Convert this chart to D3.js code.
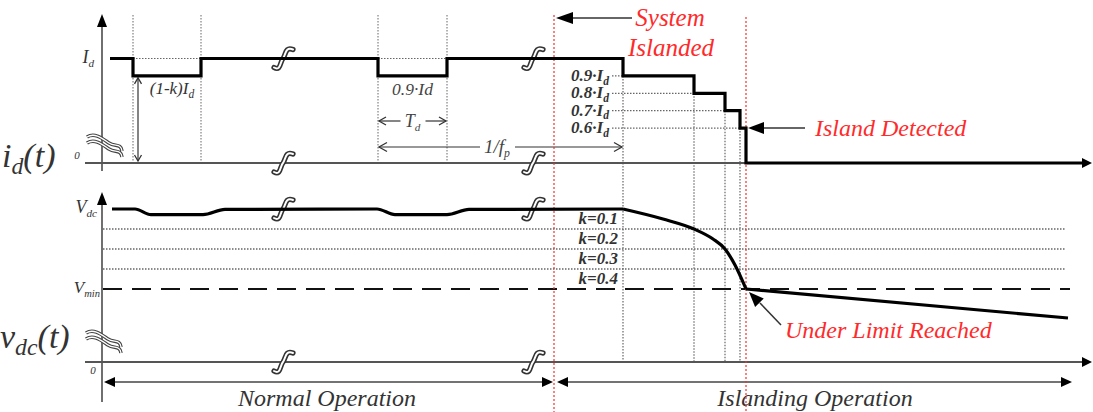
<!DOCTYPE html>
<html>
<head>
<meta charset="utf-8">
<script src="https://cdn.jsdelivr.net/npm/d3@7"></script>
<style>
  body { margin: 0; background: #fff; }
  svg { display: block; }
</style>
</head>
<body>
<svg id="chart" width="1093" height="412"></svg>
<script>
// ---- Timing (arbitrary time units) ----
const notchStarts = [3.0, 27.5];
const notchEnds = [9.8, 34.4];
const notchLevel = 0.9;
const breakTimes = [18, 43];
const tIslanded = 45.1;
const stepTimes = [52.0, 59.1, 62.2, 63.7];
const stepLevels = [0.9, 0.8, 0.7, 0.6];
const stepLabels = ["0.9·", "0.8·", "0.7·", "0.6·"];
const tDetected = 64.3;

// ---- Injected current i_d(t), per unit of I_d ----
const idTrace = [
  [0.7, 1], [3.0, 1], [3.0, 0.9], [9.8, 0.9], [9.8, 1],
  [27.5, 1], [27.5, 0.9], [34.4, 0.9], [34.4, 1],
  [52.0, 1], [52.0, 0.9], [59.1, 0.9], [59.1, 0.8], [62.2, 0.8],
  [62.2, 0.7], [63.7, 0.7], [63.7, 0.6], [64.3, 0.6], [64.3, 0], [98.2, 0]
];

// ---- DC-link voltage v_dc(t), per unit of V_dc ----
const vdcNormal = [
  [0.9, 1], [3.2, 1], [4.8, 0.972], [10.0, 0.972], [12.2, 0.998],
  [27.4, 1], [29.2, 0.972], [34.4, 0.972], [36.6, 0.998], [52.0, 1]
];
const vdcIsland = [
  [52.0, 1], [56.0, 0.95], [59.1, 0.9], [61.0, 0.85], [62.2, 0.8],
  [63.2, 0.72], [64.3, 0.6]
];
const vdcAfter = [[64.3, 0.6], [96.5, 0.455]];
const vThresholds = [0.9, 0.8, 0.7];
const kLabels = ["k=0.1", "k=0.2", "k=0.3", "k=0.4"];
const vMin = 0.6;

const FONT = "'Liberation Serif', 'DejaVu Serif', 'Times New Roman', serif";
const svg = d3.select("#chart");
const x = d3.scaleLinear().domain([0, 100]).range([103, 1103]);
// broken value axes: compressed segment below the break marks
const yI = d3.scaleLinear().domain([0, 0.5, 1]).range([163, 145.5, 58.5]);
const yV = d3.scaleLinear().domain([0, 0.4, 1]).range([362, 329, 209]);

const DARK = "#333", GRID = "#666", RED = "#ff2a2a";

function tri(g, tipX, tipY, ang, len, half, fill) {
  const c = Math.cos(ang), s = Math.sin(ang);
  const bx = tipX - c * len, by = tipY - s * len;
  const p = [[tipX, tipY], [bx - s * half, by + c * half], [bx + s * half, by - c * half]];
  g.append("path").attr("d", "M" + p.join("L") + "Z").attr("fill", fill || "#000");
}
function chevron(g, tipX, tipY, ang, len, half) {
  const c = Math.cos(ang), s = Math.sin(ang);
  const bx = tipX - c * len, by = tipY - s * len;
  g.append("path")
    .attr("d", `M${bx - s * half},${by + c * half}L${tipX},${tipY}L${bx + s * half},${by - c * half}`)
    .attr("fill", "none").attr("stroke", DARK).attr("stroke-width", 1.3);
}
function line(g, x1, y1, x2, y2, stroke, w, dash) {
  const l = g.append("line").attr("x1", x1).attr("y1", y1).attr("x2", x2).attr("y2", y2)
    .attr("stroke", stroke).attr("stroke-width", w);
  if (dash) l.attr("stroke-dasharray", dash);
  return l;
}
function label(g, px, py, parts, size, anchor, fill, weight, subScale) {
  const t = g.append("text").attr("x", px).attr("y", py).attr("font-size", size)
    .attr("font-family", FONT).attr("font-style", "italic")
    .attr("text-anchor", anchor || "start").attr("fill", fill || DARK);
  if (weight) t.attr("font-weight", weight);
  parts.forEach(p => {
    const ts = t.append("tspan").text(p[0]);
    if (p[1] === "sub") ts.attr("font-size", size * (subScale || 0.62)).attr("dy", size * 0.22);
    if (p[1] === "up") ts.attr("dy", -size * 0.22);
  });
  return t;
}
function breakMark(g, cx, cy) {
  const d = `M${cx - 9},${cy + 9} C${cx - 2},${cy + 13} ${cx - 3},${cy + 3} ${cx},${cy} C${cx + 3},${cy - 4} ${cx + 2},${cy - 12} ${cx + 10},${cy - 9}`;
  g.append("path").attr("d", d).attr("fill", "none").attr("stroke", "#333").attr("stroke-width", 5.2).attr("stroke-linecap", "round");
  g.append("path").attr("d", d).attr("fill", "none").attr("stroke", "#fff").attr("stroke-width", 2).attr("stroke-linecap", "round");
}
function axisBreak(g, x0, y0) {
  [0, 6].forEach(off => {
    const d = `M${x0},${y0 + off} C${x0 + 8},${y0 - 5 + off} ${x0 + 16},${y0 + 2 + off} ${x0 + 22},${y0 + 6 + off} S${x0 + 34},${y0 + 6 + off} ${x0 + 35},${y0 + 14 + off}`;
    g.append("path").attr("d", d).attr("fill", "none").attr("stroke", "#444").attr("stroke-width", 3.6);
    g.append("path").attr("d", d).attr("fill", "none").attr("stroke", "#fff").attr("stroke-width", 1.3);
  });
}

const g = svg.append("g");

// ---------- Top panel: i_d(t) ----------
notchStarts.concat(notchEnds).forEach(t => line(g, x(t), 15, x(t), yI(0), GRID, 1, "1.5,1.5"));
notchStarts.forEach((t, i) => line(g, x(t), yI(1), x(notchEnds[i]), yI(1), GRID, 1, "1.5,1.5"));

stepTimes.forEach((t, i) => {
  line(g, 612, yI(stepLevels[i]), x(t), yI(stepLevels[i]), GRID, 1.2, "1.5,1.5");
  line(g, x(t), yI(stepLevels[i]), x(t), yV(0), GRID, 1.2, "1.5,1.5");
  label(g, 609, yI(stepLevels[i]) + 5, [[stepLabels[i]], ["I"], ["d", "sub"]], 17, "end", DARK, "bold", 0.68);
});

line(g, x(0) - 1, 24, x(0) - 1, 171, DARK, 1.4);
tri(g, x(0) - 1, 14, -Math.PI / 2, 13, 5);
line(g, 85, yI(0), 1084, yI(0), "#555", 2);
tri(g, 1092, yI(0), 0, 10, 5);

svg.append("path").datum(idTrace)
  .attr("d", d3.line().x(d => x(d[0])).y(d => yI(d[1])))
  .attr("fill", "none").attr("stroke", "#000").attr("stroke-width", 3.2);

// (1-k)I_d arrow
line(g, x(3.5), yI(notchLevel) + 2, x(3.5), yI(0) - 2, DARK, 1.2);
chevron(g, x(3.5), yI(notchLevel) + 2, -Math.PI / 2, 6, 3.5);
chevron(g, x(3.5), yI(0) - 2, Math.PI / 2, 6, 3.5);
label(g, 172, 94, [["(1-k)I"], ["d", "sub"]], 17, "middle", DARK, null, 0.68);
label(g, x((notchStarts[1] + notchEnds[1]) / 2), 95, [["0.9·Id"]], 17.5, "middle", "#444");

// T_d arrow
const tdY = 121, tdMid = x((notchStarts[1] + notchEnds[1]) / 2);
line(g, x(notchStarts[1]) + 1, tdY, tdMid - 12, tdY, DARK, 1.2);
line(g, tdMid + 13, tdY, x(notchEnds[1]) - 1, tdY, DARK, 1.2);
chevron(g, x(notchStarts[1]) + 1, tdY, Math.PI, 7, 4);
chevron(g, x(notchEnds[1]) - 1, tdY, 0, 7, 4);
label(g, tdMid, 127, [["T"], ["d", "sub"]], 18, "middle", "#444");

// 1/f_p arrow
const fpY = 147, fpMid = 497;
line(g, x(notchStarts[1]) + 1, fpY, fpMid - 17, fpY, DARK, 1.2);
line(g, fpMid + 18, fpY, x(stepTimes[0]) - 1, fpY, DARK, 1.2);
chevron(g, x(notchStarts[1]) + 1, fpY, Math.PI, 8, 4.5);
chevron(g, x(stepTimes[0]) - 1, fpY, 0, 8, 4.5);
label(g, fpMid, 153, [["1/f"], ["p", "sub"]], 19, "middle", "#444");

breakTimes.forEach(t => { breakMark(g, x(t), yI(1)); breakMark(g, x(t), yI(0)); });

label(g, 94, 63, [["I"], ["d", "sub"]], 18, "end", DARK);
label(g, 77, 159, [["0"]], 11, "middle", DARK);
label(g, 2, 167, [["i"], ["d", "sub"], ["(t)", "up"]], 34, "start", DARK, null, 0.7);
axisBreak(g, 87, 137);

// ---------- Bottom panel: v_dc(t) ----------
vThresholds.forEach(v => line(g, x(0), yV(v), 1065, yV(v), GRID, 1.3, "1.5,1.5"));
line(g, x(0), yV(vMin), 1070, yV(vMin), "#111", 2, "19,10");
[vThresholds[0], vThresholds[1], vThresholds[2], vMin].forEach((v, i) =>
  label(g, 618, yV(v) - 5, [[kLabels[i]]], 17, "end", DARK, "bold"));

line(g, x(0) - 1, 202, x(0) - 1, 402, DARK, 1.4);
tri(g, x(0) - 1, 192, -Math.PI / 2, 13, 5);
line(g, 85, yV(0), 1084, yV(0), "#555", 2);
tri(g, 1092, yV(0), 0, 10, 5);

const curve = d3.line().x(d => x(d[0])).y(d => yV(d[1])).curve(d3.curveMonotoneX);
[vdcNormal, vdcIsland, vdcAfter].forEach(s =>
  svg.append("path").datum(s).attr("d", curve)
    .attr("fill", "none").attr("stroke", "#000").attr("stroke-width", 3.2).attr("stroke-linejoin", "round"));

breakTimes.forEach(t => { breakMark(g, x(t), yV(1)); breakMark(g, x(t), yV(0)); });

label(g, 97, 213, [["V"], ["dc", "sub"]], 18, "end", DARK);
label(g, 100, 293, [["V"], ["min", "sub"]], 17, "end", DARK);
label(g, 93, 374, [["0"]], 11, "middle", DARK);
label(g, 0, 348, [["v"], ["dc", "sub"], ["(t)", "up"]], 34, "start", DARK, null, 0.7);
axisBreak(g, 86, 333);

// operation-mode arrows
const opY = 382;
line(g, x(0) + 8, opY, x(tIslanded) - 9, opY, "#444", 1.5);
tri(g, x(0) + 1, opY, Math.PI, 11, 5);
tri(g, x(tIslanded) - 1, opY, 0, 11, 5);
line(g, x(tIslanded) + 11, opY, 1062, opY, "#444", 1.5);
tri(g, x(tIslanded) + 3, opY, Math.PI, 11, 5);
tri(g, 1072, opY, 0, 11, 5);
label(g, 327, 406, [["Normal Operation"]], 24, "middle", "#333");
label(g, 815, 406, [["Islanding Operation"]], 24, "middle", "#333");

// ---------- Event markers (red) ----------
line(g, x(tIslanded), 15, x(tIslanded), 412, RED, 1.2, "2,2");
line(g, x(tDetected), 17, x(tDetected), 412, RED, 1.2, "2,2");

line(g, 572, 18, 632, 18, DARK, 1.5);
tri(g, x(tIslanded) + 2, 18, Math.PI, 17, 6);
label(g, 670, 26, [["System"]], 25, "middle", RED);
label(g, 671, 56, [["Islanded"]], 25, "middle", RED);

line(g, 762, yI(0.6), 805, yI(0.6), DARK, 1.5);
tri(g, x(tDetected) + 2, yI(0.6), Math.PI, 16, 6);
label(g, 815, 136, [["Island Detected"]], 24, "start", RED);

const ulA = Math.atan2(292 - 325, 749 - 781);
line(g, 781, 325, 760, 303, DARK, 1.5);
tri(g, 749, 292, ulA, 15, 6);
label(g, 785, 338, [["Under Limit Reached"]], 24, "start", RED);
</script>
</body>
</html>
